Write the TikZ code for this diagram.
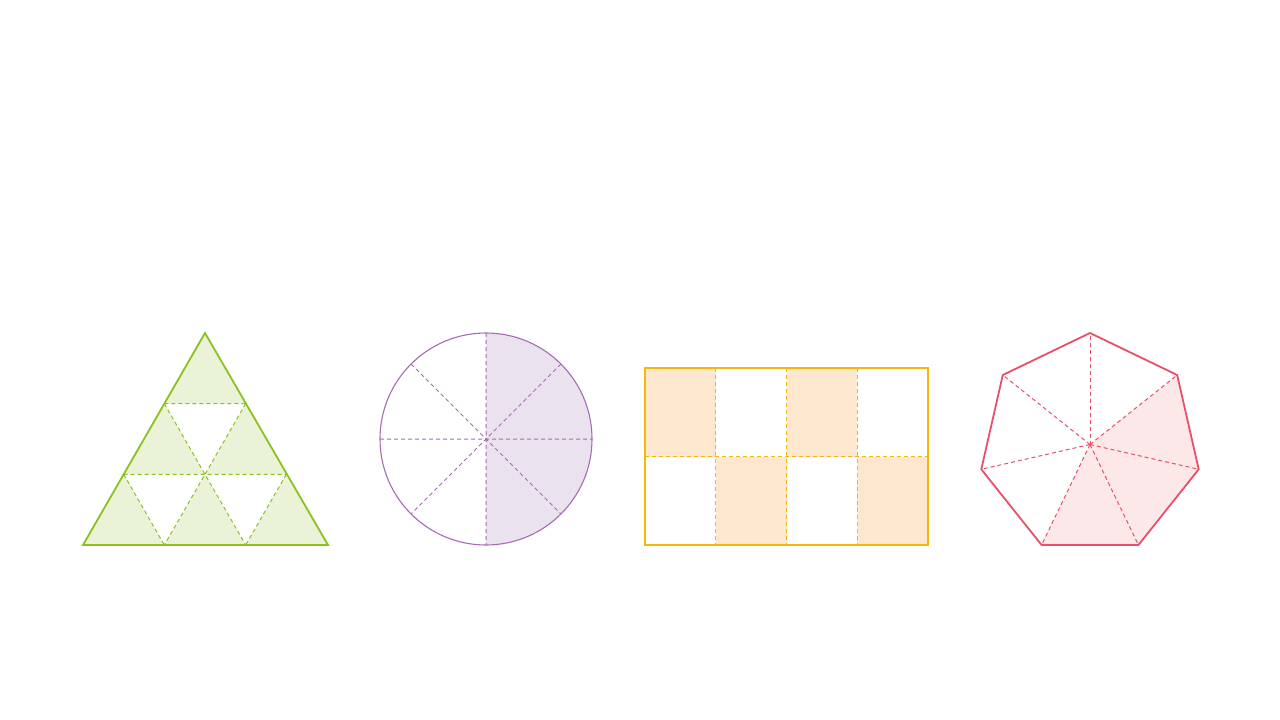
\documentclass[tikz,border=0pt]{standalone}
\usetikzlibrary{calc}
\definecolor{trigreen}{RGB}{140,194,30}
\definecolor{trifill}{RGB}{234,243,216}
\definecolor{cirpurple}{RGB}{165,108,178}
\definecolor{cirfill}{RGB}{235,226,240}
\definecolor{recorange}{RGB}{246,183,10}
\definecolor{recfill}{RGB}{253,231,207}
\definecolor{heptred}{RGB}{232,80,106}
\definecolor{heptfill}{RGB}{252,232,232}
\tikzset{
  outline/.style={line width=1.8pt, line join=miter},
  divider/.style={line width=1pt, dash pattern=on 4pt off 3pt},
}
\begin{document}
\begin{tikzpicture}[x=1pt,y=-1pt]
\useasboundingbox[fill=white] (0,0) rectangle (1280,720);

% ---------- Triangle ----------
\coordinate (A) at (205,333);
\coordinate (B) at (83,545);
\coordinate (C) at (328,545);
\coordinate (L1) at (164.33,403.67);
\coordinate (R1) at (245.67,403.67);
\coordinate (L2) at (123.67,474.33);
\coordinate (R2) at (286.33,474.33);
\coordinate (M2) at (205,474.33);
\coordinate (B1) at (164.33,545);
\coordinate (B2) at (245.67,545);
\fill[trifill] (A) -- (B) -- (C) -- cycle;
\fill[white] (L1) -- (R1) -- (M2) -- cycle;
\fill[white] (L2) -- (M2) -- (B1) -- cycle;
\fill[white] (M2) -- (R2) -- (B2) -- cycle;
\draw[divider, trigreen] (L1) -- (R1) (L2) -- (R2) (L1) -- (B2) (R1) -- (B1) (L2) -- (B1) (R2) -- (B2);
\draw[outline, trigreen] (A) -- (B) -- (C) -- cycle;

% ---------- Circle ----------
\coordinate (O) at (486,439);
\fill[cirfill] (486,333) arc[start angle=-90,end angle=90,radius=106] -- cycle;
\draw[divider, cirpurple] (486,333) -- (486,545) (380,439) -- (592,439)
  (411.05,364.05) -- (560.95,513.95) (560.95,364.05) -- (411.05,513.95);
\draw[line width=1.1pt, cirpurple] (O) circle[radius=106];

% ---------- Rectangle ----------
\fill[recfill] (645,368) rectangle (715.75,456.5);
\fill[recfill] (786.5,368) rectangle (857.25,456.5);
\fill[recfill] (715.75,456.5) rectangle (786.5,545);
\fill[recfill] (857.25,456.5) rectangle (928,545);
\draw[divider, recorange] (715.75,368) -- (715.75,545) (786.5,368) -- (786.5,545)
  (857.25,368) -- (857.25,545) (645,456.5) -- (928,456.5);
\draw[line width=1.4pt, recorange] (645,368) rectangle (928,545);

% ---------- Heptagon ----------
\coordinate (H) at (1090,444.5);
\coordinate (V1) at (1090,333);
\coordinate (V2) at (1177.2,375);
\coordinate (V3) at (1198.7,469.3);
\coordinate (V4) at (1138.4,545);
\coordinate (V5) at (1041.6,545);
\coordinate (V6) at (981.3,469.3);
\coordinate (V7) at (1002.8,375);
\fill[heptfill] (H) -- (V2) -- (V3) -- (V4) -- (V5) -- cycle;
\foreach \v in {V1,V2,V3,V4,V5,V6,V7}
  \draw[divider, heptred] (H) -- (\v);
\draw[outline, heptred] (V1) -- (V2) -- (V3) -- (V4) -- (V5) -- (V6) -- (V7) -- cycle;
\end{tikzpicture}
\end{document}
